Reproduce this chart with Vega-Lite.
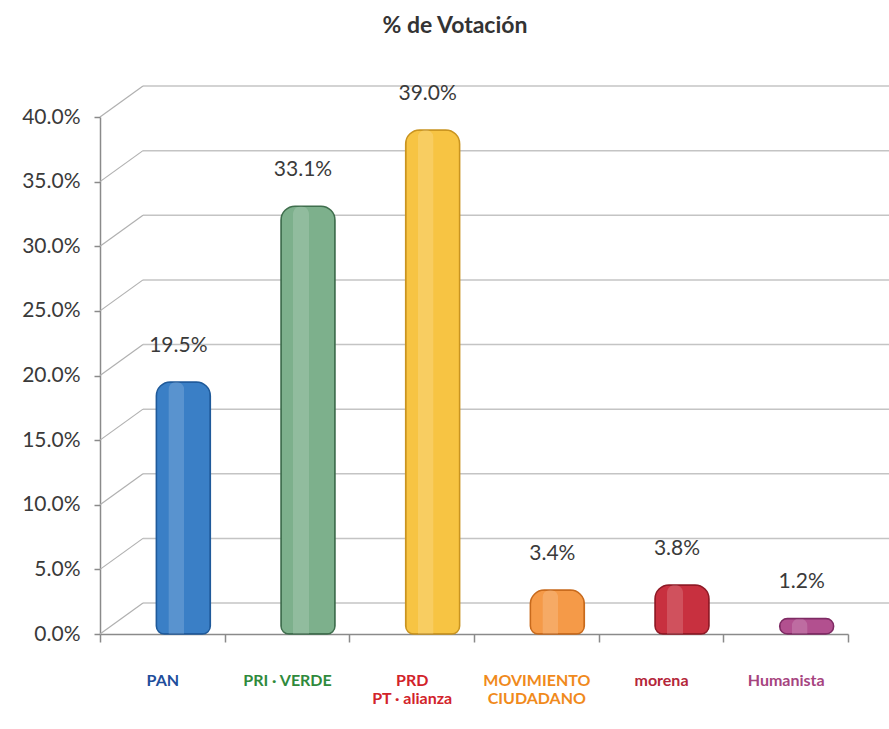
{
  "$schema": "https://vega.github.io/schema/vega-lite/v6.json",
  "width": 748,
  "height": 517,
  "autosize": {"type": "none"},
  "padding": {"left": 100, "top": 117, "right": 41, "bottom": 95},
  "background": "white",
  "config": {"font": "Lato", "view": {"stroke": null}},
  "title": {"text": "% de Votación", "fontSize": 23, "fontWeight": "bold", "color": "#333333", "font": "Lato", "offset": 45, "dx": -19, "anchor": "middle"},
  "datasets": {
    "votos": [
      {"partido": "PAN", "pct": 0.195},
      {"partido": "PRI · VERDE", "pct": 0.331},
      {"partido": "PRD|PT · alianza", "pct": 0.39},
      {"partido": "MOVIMIENTO|CIUDADANO", "pct": 0.034},
      {"partido": "morena", "pct": 0.038},
      {"partido": "Humanista", "pct": 0.012}
    ],
    "marcas": [
      {"v": 0}, {"v": 0.05}, {"v": 0.1}, {"v": 0.15}, {"v": 0.2},
      {"v": 0.25}, {"v": 0.3}, {"v": 0.35}, {"v": 0.4}
    ]
  },
  "layer": [
    {
      "data": {"name": "marcas"},
      "mark": {"type": "rule", "color": "#c4c4c4", "strokeWidth": 1.5, "xOffset": 43, "x2Offset": 43, "yOffset": -31, "clip": false},
      "encoding": {
        "x": {"datum": "PAN", "type": "nominal", "bandPosition": 0},
        "x2": {"datum": "Humanista", "bandPosition": 1},
        "y": {
          "field": "v", "type": "quantitative", "scale": {"domain": [0, 0.4], "nice": false},
          "axis": {
            "title": null, "format": ".1%", "values": [0, 0.05, 0.1, 0.15, 0.2, 0.25, 0.3, 0.35, 0.4],
            "labelFontSize": 21, "labelColor": "#3a3a3a", "labelFont": "Lato",
            "domainColor": "#8a8a8a", "tickColor": "#8a8a8a", "domainWidth": 1.5, "tickWidth": 1.5,
            "tickSize": 6, "labelPadding": 14, "grid": false
          }
        }
      }
    },
    {
      "data": {"name": "marcas"},
      "mark": {"type": "rule", "color": "#b0b0b0", "strokeWidth": 1.2, "x2Offset": 43, "y2Offset": -31, "clip": false},
      "encoding": {
        "x": {"datum": "PAN", "type": "nominal", "bandPosition": 0},
        "x2": {"datum": "PAN", "bandPosition": 0},
        "y": {"field": "v", "type": "quantitative"},
        "y2": {"field": "v"}
      }
    },
    {
      "data": {"name": "votos"},
      "mark": {"type": "bar", "width": 54, "xOffset": 21, "cornerRadiusTopLeft": 14, "cornerRadiusTopRight": 14, "cornerRadiusBottomLeft": 8, "cornerRadiusBottomRight": 8, "strokeWidth": 1.5},
      "encoding": {
        "x": {
          "field": "partido", "type": "nominal", "sort": null,
          "scale": {"domain": ["PAN", "PRI · VERDE", "PRD|PT · alianza", "MOVIMIENTO|CIUDADANO", "morena", "Humanista"], "paddingInner": 0, "paddingOuter": 0},
          "axis": {
            "title": null, "labelAngle": 0, "labelAlign": "center", "labelBaseline": "top", "tickBand": "extent", "tickSize": 8,
            "domainColor": "#8a8a8a", "tickColor": "#8a8a8a", "domainWidth": 1.5, "tickWidth": 1.5,
            "labelPadding": 30, "labelFontSize": 16, "labelFontWeight": "bold", "labelLineHeight": 18,
            "labelExpr": "split(datum.label, '|')",
            "labelColor": {"expr": "datum.value == 'PAN' ? '#1f4e9c' : datum.value == 'PRI · VERDE' ? '#2f8a3c' : datum.value == 'PRD|PT · alianza' ? '#d2232a' : datum.value == 'MOVIMIENTO|CIUDADANO' ? '#f08a1c' : datum.value == 'morena' ? '#b4263a' : '#a6447f'"}
          }
        },
        "y": {"field": "pct", "type": "quantitative"},
        "color": {
          "field": "partido", "type": "nominal", "legend": null,
          "scale": {
            "domain": ["PAN", "PRI · VERDE", "PRD|PT · alianza", "MOVIMIENTO|CIUDADANO", "morena", "Humanista"],
            "range": ["#3a7fc6", "#7db08c", "#f7c443", "#f59a48", "#c8303f", "#b2508f"]
          }
        },
        "stroke": {
          "field": "partido", "type": "nominal", "legend": null,
          "scale": {
            "domain": ["PAN", "PRI · VERDE", "PRD|PT · alianza", "MOVIMIENTO|CIUDADANO", "morena", "Humanista"],
            "range": ["#1f5a9a", "#3f6e4d", "#c99420", "#c86a1c", "#8e1a26", "#7e2a63"]
          }
        }
      }
    },
    {
      "data": {"name": "votos"},
      "mark": {"type": "bar", "width": 16, "xOffset": 14, "cornerRadiusTopLeft": 8, "cornerRadiusTopRight": 8, "color": "white", "opacity": 0.16},
      "encoding": {
        "x": {"field": "partido", "type": "nominal", "sort": null},
        "y": {"field": "pct", "type": "quantitative"}
      }
    },
    {
      "data": {"name": "votos"},
      "mark": {"type": "text", "fontSize": 21, "color": "#3a3a3a", "font": "Lato", "baseline": "bottom", "xOffset": 16, "yOffset": -26},
      "encoding": {
        "x": {"field": "partido", "type": "nominal", "sort": null},
        "y": {"field": "pct", "type": "quantitative"},
        "text": {"field": "pct", "type": "quantitative", "format": ".1%"}
      }
    }
  ]
}
